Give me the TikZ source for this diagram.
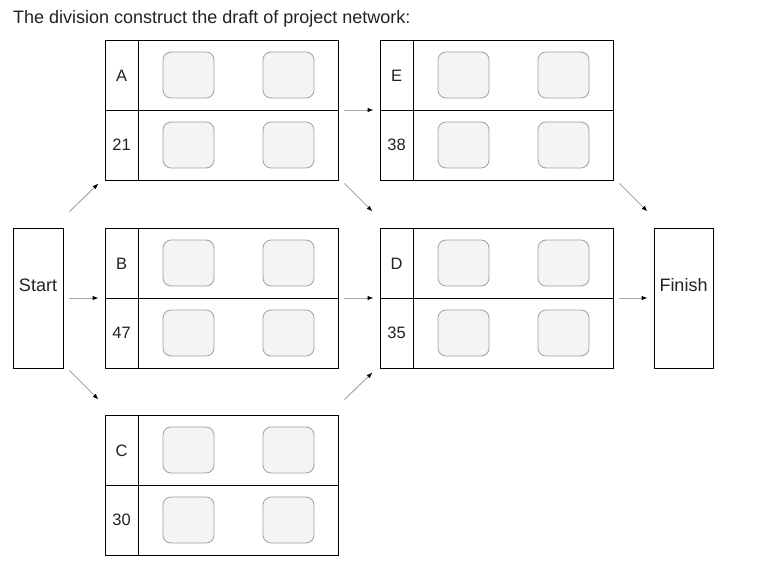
\documentclass[tikz,border=0pt]{standalone}
\usepackage{fontspec}
\setmainfont{Liberation Sans}
\usetikzlibrary{arrows.meta,positioning}
\definecolor{slotfill}{HTML}{F3F4F6}
\definecolor{slotedge}{HTML}{A0A0A0}
\definecolor{flowgray}{HTML}{A8A8A8}
\definecolor{textdark}{HTML}{222222}

\tikzset{
  actbox/.style={draw=black,line width=0.9pt,minimum width=233pt,minimum height=140pt,inner sep=0pt},
  endbox/.style={draw=black,line width=0.9pt,minimum height=140pt,inner sep=0pt},
  endtext/.style={font=\fontsize{18}{20}\selectfont,text=textdark,inner sep=0pt},
  slot/.style={draw=slotedge,fill=slotfill,rounded corners=8pt,line width=0.8pt,
               minimum width=51pt,minimum height=46pt,inner sep=0pt},
  cell/.style={font=\fontsize{16.5}{18}\selectfont,text=textdark,inner sep=0pt},
  flow/.style={draw=flowgray,line width=1pt,-{Latex[length=6pt,width=4.5pt,black]}}
}

\begin{document}
\begin{tikzpicture}[x=1pt,y=-1pt]
  \useasboundingbox (0,0) rectangle (775,583);

  \node[anchor=base west,font=\fontsize{18}{20}\selectfont,text=textdark,inner sep=0pt] (title) at (13,24)
    {The division construct the draft of project network:};

  % activity boxes: name / centre / duration
  \foreach \n/\x/\y/\d in {A/221.5/110/21, E/496.5/110/38, B/221.5/298/47, D/496.5/298/35, C/221.5/485/30} {
    \node[actbox] (\n) at (\x,\y) {};
    \draw[line width=0.9pt] ([xshift=34pt]\n.north west) -- ([xshift=34pt]\n.south west);
    \draw[line width=0.9pt] (\n.west) -- (\n.east);
    \node[cell] (\n-name) at ([xshift=17pt,yshift=34pt]\n.west) {\n};
    \node[cell] (\n-dur) at ([xshift=17pt,yshift=-35pt]\n.west) {\d};
    \node[slot] (\n-es) at ([xshift=-33pt,yshift=35pt]\n.center) {};
    \node[slot] (\n-ef) at ([xshift=67pt,yshift=35pt]\n.center) {};
    \node[slot] (\n-ls) at ([xshift=-33pt,yshift=-35pt]\n.center) {};
    \node[slot] (\n-lf) at ([xshift=67pt,yshift=-35pt]\n.center) {};
  }

  \node[endbox,minimum width=50pt] (start) at (38,298) {};
  \node[endtext] (start-text) at ([yshift=13pt]start.center) {Start};
  \node[endbox,minimum width=59pt] (finish) at (683.5,298) {};
  \node[endtext] (finish-text) at ([yshift=13pt]finish.center) {Finish};

  % connectors
  \draw[flow] ([shift={(6,-16)}]start.north east) -- ([shift={(-6,3)}]A.south west);
  \draw[flow] ([shift={(6,0)}]start.east) -- ([shift={(-6,0)}]B.west);
  \draw[flow] ([shift={(6,2)}]start.south east) -- ([shift={(-6,-15)}]C.north west);
  \draw[flow] ([shift={(6,0)}]A.east) -- ([shift={(-6,0)}]E.west);
  \draw[flow] ([shift={(6,3)}]A.south east) -- ([shift={(-7,-16)}]D.north west);
  \draw[flow] ([shift={(6,0)}]B.east) -- ([shift={(-6,0)}]D.west);
  \draw[flow] ([shift={(6,-15)}]C.north east) -- ([shift={(-7,4)}]D.south west);
  \draw[flow] ([shift={(6,3)}]E.south east) -- ([shift={(-6,-16)}]finish.north west);
  \draw[flow] ([shift={(6,0)}]D.east) -- ([shift={(-6,0)}]finish.west);
\end{tikzpicture}
\end{document}
